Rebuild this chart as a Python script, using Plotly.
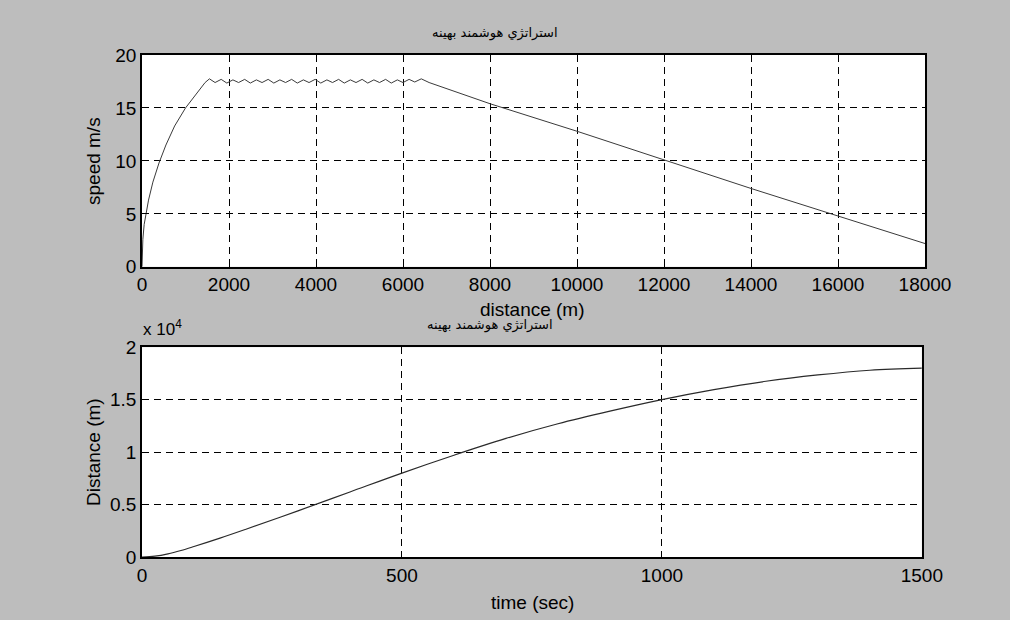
import plotly.graph_objects as go
from plotly.subplots import make_subplots

# ---- top subplot: speed vs distance ----
distance_m = [0, 20, 50, 90, 150, 250, 390, 550, 750, 1000, 1200, 1350, 1450, 1550,
              1680, 1820, 1950, 2090, 2220, 2360, 2490, 2630, 2760, 2900, 3030, 3170,
              3300, 3440, 3570, 3710, 3840, 3980, 4110, 4250, 4380, 4520, 4650, 4790,
              4920, 5060, 5190, 5330, 5460, 5600, 5730, 5870, 6000, 6140, 6270, 6420,
              6600, 8000, 10000, 12000, 14000, 16000, 18000]
speed_ms = [0, 2.6, 4.0, 5.0, 6.3, 8.0, 9.8, 11.5, 13.3, 15.0, 16.1, 16.9, 17.4, 17.75,
            17.4, 17.7, 17.35, 17.65, 17.4, 17.7, 17.35, 17.65, 17.4, 17.7, 17.35, 17.65,
            17.4, 17.7, 17.35, 17.65, 17.4, 17.7, 17.35, 17.65, 17.4, 17.7, 17.35, 17.65,
            17.4, 17.7, 17.35, 17.65, 17.4, 17.7, 17.35, 17.65, 17.4, 17.7, 17.45, 17.75,
            17.4, 15.4, 12.8, 10.1, 7.4, 4.8, 2.2]

# ---- bottom subplot: distance vs time ----
time_s = [0, 25, 50, 75, 100, 150, 200, 300, 400, 500, 600, 700, 800, 900, 1000,
          1100, 1200, 1300, 1400, 1500]
dist_m = [0, 80, 300, 620, 1000, 1800, 2650, 4400, 6200, 8000, 9700, 11300, 12700,
          13900, 15000, 15950, 16750, 17350, 17800, 18000]

top_xticks = [0, 2000, 4000, 6000, 8000, 10000, 12000, 14000, 16000, 18000]
top_xticktext = ["0", "2000", "4000", "6000", "8000", "10000", "12000", "14000",
                 "16000", "18000"]
top_yticks = [0, 5, 10, 15, 20]
bot_xticks = [0, 500, 1000, 1500]
bot_yticks = [0, 5000, 10000, 15000, 20000]
bot_yticktext = ["0", "0.5", "1", "1.5", "2"]

title_text = "استراتژي هوشمند بهينه"

fig = make_subplots(rows=2, cols=1)

fig.add_trace(go.Scatter(x=distance_m, y=speed_ms, mode="lines",
                         line=dict(color="#3a3a3a", width=1), showlegend=False),
              row=1, col=1)
fig.add_trace(go.Scatter(x=time_s, y=dist_m, mode="lines", line_shape="spline",
                         line=dict(color="#2a2a2a", width=1.2), showlegend=False),
              row=2, col=1)

tickfont = dict(family="Liberation Sans, Arial", size=19, color="black")
axis_common = dict(showline=True, linecolor="black", linewidth=1.5, mirror=True,
                   ticks="inside", ticklen=5, tickcolor="black", tickwidth=1,
                   showgrid=True, gridcolor="black", gridwidth=1.3,
                   griddash="7px,5px", zeroline=False, tickfont=tickfont)

fig.update_xaxes(range=[0, 18000], tickvals=top_xticks, ticktext=top_xticktext,
                 domain=[0, 1.0], **axis_common, row=1, col=1)
fig.update_yaxes(range=[0, 20], tickvals=top_yticks, domain=[0.578, 1.0],
                 **axis_common, row=1, col=1)
fig.update_xaxes(range=[0, 1500], tickvals=bot_xticks, domain=[0, 0.996],
                 **axis_common, row=2, col=1)
fig.update_yaxes(range=[0, 20000], tickvals=bot_yticks, ticktext=bot_yticktext,
                 domain=[0, 0.418], **axis_common, row=2, col=1)

lab = dict(family="Liberation Sans, Arial", size=19, color="black")
ann = [
    dict(text=title_text, x=495, y=33, font=dict(family="DejaVu Sans", size=13, color="black")),
    dict(text="distance (m)", x=532, y=309, font=lab),
    dict(text=title_text, x=490, y=325, font=dict(family="DejaVu Sans", size=13, color="black")),
    dict(text="x 10<sup>4</sup>", x=162, y=328, font=dict(family="Liberation Sans, Arial", size=17, color="black")),
    dict(text="time (sec)", x=532, y=602, font=lab),
]
W, H = 1010, 620
L, R, T, B = 142, 85, 55, 63
pw, ph = W - L - R, H - T - B
annotations = []
for a in ann:
    annotations.append(dict(text=a["text"], xref="paper", yref="paper",
                            x=(a["x"] - L) / pw, y=(H - B - a["y"]) / ph,
                            xanchor="center", yanchor="middle", showarrow=False,
                            font=a["font"]))
for txt, yc in [("speed m/s", 161), ("Distance (m)", 452)]:
    annotations.append(dict(text=txt, xref="paper", yref="paper",
                            x=(93 - L) / pw, y=(H - B - yc) / ph, textangle=-90,
                            xanchor="center", yanchor="middle", showarrow=False,
                            font=lab))

fig.update_layout(width=W, height=H, margin=dict(l=L, r=R, t=T, b=B),
                  paper_bgcolor="#bdbdbd", plot_bgcolor="white",
                  annotations=annotations, showlegend=False)

fig.write_html("out.html")
